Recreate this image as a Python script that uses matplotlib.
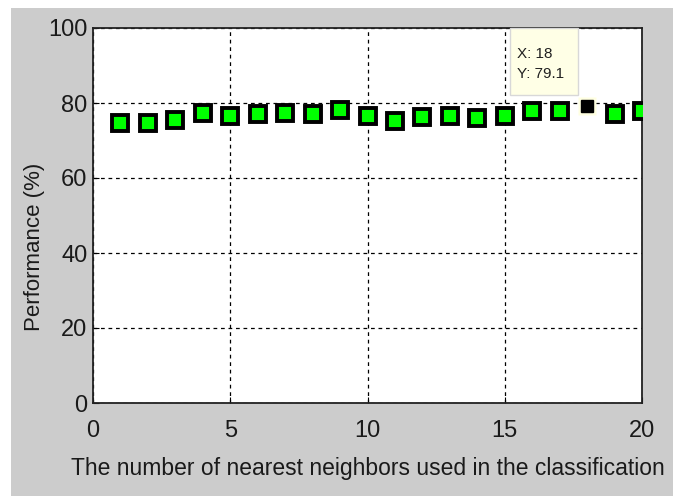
import matplotlib
matplotlib.use("Agg")
import matplotlib.pyplot as plt
import matplotlib.transforms as mtransforms
from matplotlib.patches import Rectangle

# Performance for k = 1..20 nearest neighbours
k_values = list(range(1, 21))
performance = [74.7, 74.7, 75.6, 77.4, 76.5, 77.1, 77.3, 77.0, 78.2, 76.5,
               75.2, 76.2, 76.5, 76.0, 76.5, 77.9, 77.9, 79.1, 77.2, 77.9]
tip_index = 17  # data tip sits on k = 18
x_ticks = [0, 5, 10, 15, 20]
y_ticks = [0, 20, 40, 60, 80, 100]

font = 'Liberation Sans'

fig = plt.figure(figsize=(6.73, 4.96), dpi=100, facecolor='white')
W, H = 673, 496
# MATLAB style gray figure area
fig.patches.append(Rectangle((11 / W, 0), 1 - 11 / W, 1 - 8 / H, transform=fig.transFigure,
                             facecolor='#cccccc', edgecolor='none', zorder=-10))

ax = fig.add_axes([93 / W, 1 - 403 / H, (642 - 93) / W, (403 - 28) / H])
ax.set_facecolor('white')
ax.set_xlim(0, 20)
ax.set_ylim(0, 100)

others = [i for i in range(len(k_values)) if i != tip_index]
ax.plot([k_values[i] for i in others], [performance[i] for i in others], 's',
        markerfacecolor='#00ff00', markeredgecolor='black', markersize=11,
        markeredgewidth=2.8, zorder=3)

# data tip marker
kx, ky = k_values[tip_index], performance[tip_index]
ax.plot(kx, ky, 's', markersize=12.5, markerfacecolor='#ffffe1', markeredgecolor='none', zorder=3)
ax.plot(kx, ky, 's', markersize=8, markerfacecolor='black', markeredgecolor='black', zorder=4)

# data tip box, placed in pixels relative to the point
px, py = ax.transData.transform((kx, ky))
tip_tr = mtransforms.Affine2D().translate(px, py)
ax.add_patch(Rectangle((-77, 11), 68, 67, transform=tip_tr, facecolor='#ffffe6',
                       edgecolor='#d8d8d8', linewidth=1, zorder=5, clip_on=False))
ax.annotate('X: %d\nY: %.1f' % (kx, ky), xy=(kx, ky), xytext=(-70, 25),
            textcoords='offset pixels', ha='left', va='bottom', fontsize=11,
            family=font, linespacing=1.55, color='#202020', zorder=6)

ax.set_xticks(x_ticks)
ax.set_yticks(y_ticks)
ax.grid(True, color='black', linestyle=(0, (3, 3)), linewidth=0.9)
ax.tick_params(direction='in', length=4, width=0.8, labelsize=17)
ax.tick_params(axis='x', pad=12)
ax.tick_params(axis='y', pad=4)
for lab in ax.get_xticklabels() + ax.get_yticklabels():
    lab.set_family(font)
    lab.set_color('#1a1a1a')
for s in ax.spines.values():
    s.set_linewidth(1.3)
    s.set_color('#222222')

ax.set_xlabel('The number of nearest neighbors used in the classification',
              family=font, fontsize=16.5, color='#1a1a1a')
ax.xaxis.set_label_coords(0.5, -0.144)
ax.set_ylabel('Performance (%)', family=font, fontsize=16, color='#1a1a1a')
ax.yaxis.set_label_coords(-0.088, 0.416)

fig.savefig('out.png', dpi=100, facecolor=fig.get_facecolor())
